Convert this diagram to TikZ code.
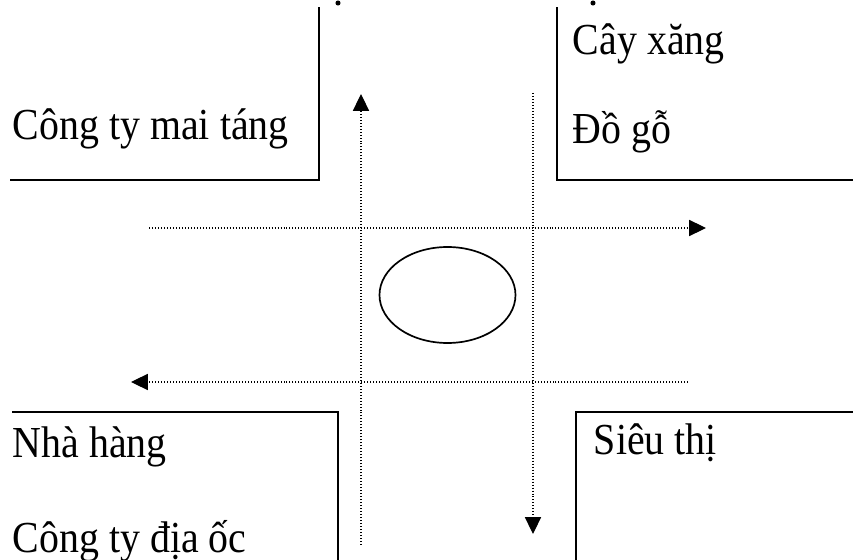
\documentclass[tikz,border=0pt]{standalone}
\usepackage{fontspec}
\setmainfont[FakeStretch=0.9]{Liberation Serif}
\usepackage{tikz}
\usetikzlibrary{arrows.meta,shapes.geometric,positioning}

\begin{document}
\begin{tikzpicture}[x=0.25mm,y=-0.25mm,line width=1.4pt,
    lbl/.style={anchor=base west,inner sep=0pt,font=\fontsize{31.5}{38}\selectfont},
    lane/.style={line width=0.8pt,dash pattern=on 0.71pt off 1.416pt,-{Triangle[length=12pt,width=11.5pt]}}]
    \useasboundingbox (0,0) rectangle (853,560);
    % corner blocks
    \draw (10,180) -- (319,180) -- (319,7);
    \draw (853,180) -- (557,180) -- (557,7);
    \draw (12,412) -- (338,412) -- (338,560);
    \draw (853,412) -- (576,412) -- (576,560);
    \fill (338,3) circle (1.8pt);
    \fill (593,3) circle (1.8pt);
    \node[lbl] (mai) at (12,140) {Công ty mai táng};
    \node[lbl] (xang) at (572,55) {Cây xăng};
    \node[lbl] (dogo) at (572,144) {Đồ gỗ};
    \node[lbl] (nhahang) at (12,457) {Nhà hàng};
    \node[lbl] (diaoc) at (12,552) {Công ty địa ốc};
    \node[lbl] (sieuthi) at (593,455) {Siêu thị};
    % roundabout
    \node[draw,ellipse,line width=1.2pt,minimum width=34mm,minimum height=24mm] (vong) at (447.5,295) {};
    % traffic lanes
    \coordinate (upS) at (361,545);
    \coordinate (upE) at (361,94);
    \coordinate (dnS) at (533,93);
    \coordinate (dnE) at (533,534);
    \coordinate (rtS) at (149,228);
    \coordinate (rtE) at (706,228);
    \coordinate (ltS) at (688,382);
    \coordinate (ltE) at (131,382);
    \draw[lane] (upS) -- (upE);
    \draw[lane] (dnS) -- (dnE);
    \draw[lane] (rtS) -- (rtE);
    \draw[lane] (ltS) -- (ltE);
\end{tikzpicture}
\end{document}
